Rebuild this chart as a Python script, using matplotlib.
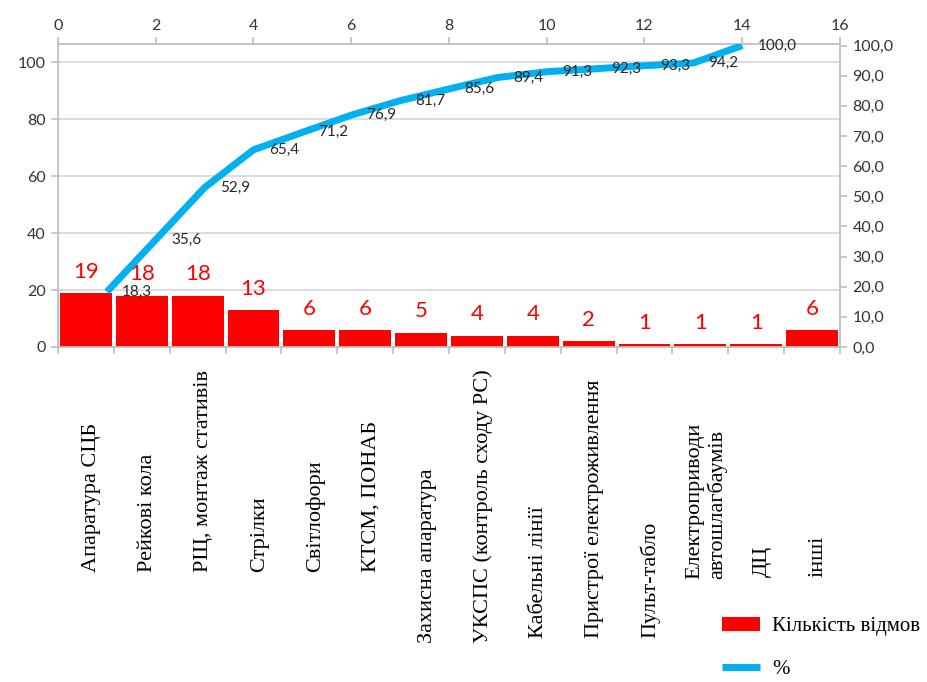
import numpy as np
import matplotlib
matplotlib.use("Agg")
import matplotlib.pyplot as plt

# data
categories = ["Апаратура СЦБ", "Рейкові кола", "РЩ, монтаж стативів", "Стрілки",
              "Світлофори", "КТСМ, ПОНАБ", "Захисна апаратура",
              "УКСПС (контроль сходу РС)", "Кабельні лінії",
              "Пристрої електроживлення", "Пульт-табло",
              "Електроприводи\nавтошлагбаумів", "ДЦ", "інші"]
failures = [19, 18, 18, 13, 6, 6, 5, 4, 4, 2, 1, 1, 1, 6]
pct_x = [1, 2, 3, 4, 5, 6, 7, 8, 9, 10, 11, 12, 13, 14]
pct = [18.3, 35.6, 52.9, 65.4, 71.2, 76.9, 81.7, 85.6, 89.4, 91.3, 92.3, 93.3, 94.2, 100.0]

# where the bottom of each rotated category label sits (pixels from top)
label_bottom_px = [572, 572, 572, 572, 572, 572, 643, 643, 638, 638, 638, 579, 577, 577]

W, H = 927, 682
fig = plt.figure(figsize=(W / 100, H / 100), dpi=100)
ax_l, ax_r, ax_t, ax_b = 58, 840, 44, 347
ax = fig.add_axes([ax_l / W, 1 - ax_b / H, (ax_r - ax_l) / W, (ax_b - ax_t) / H])

gray = "#bfbfbf"
txt = "#333333"
tick_font = dict(family="Lato", size=11.5)

x = np.arange(len(categories))
bars = ax.bar(x, failures, width=0.93, color="#ff0000", zorder=2)
ax.set_xlim(-0.5, len(categories) - 0.5)
ax.set_ylim(0, 106.4)
ax.set_yticks(np.arange(0, 101, 20))
ax.yaxis.grid(True, color="#d9d9d9", lw=1.3, zorder=0)
ax.set_axisbelow(True)
ax.set_xticks(np.arange(-0.5, len(categories), 1))
ax.set_xticklabels([])
ax.tick_params(axis="x", length=5, color=gray, width=1.2)
ax.tick_params(axis="y", length=5, color=gray, width=1.2, labelcolor=txt, pad=4)
for lab in ax.get_yticklabels():
    lab.set_fontfamily("Lato")
    lab.set_fontsize(11.5)
for s in ["top", "right"]:
    ax.spines[s].set_visible(False)
for s in ["left", "bottom"]:
    ax.spines[s].set_color(gray)
    ax.spines[s].set_linewidth(1.3)

for xi, v in zip(x, failures):
    ax.annotate(str(v), (xi, v), xytext=(0, 11), textcoords="offset points",
                ha="center", va="baseline", color="#ff0000",
                fontfamily="Lato", fontsize=16)

# category labels, rotated
for xi, name, bp in zip(x, categories, label_bottom_px):
    fy = 1 - bp / H
    fx = (ax_l + (xi + 0.5) * (ax_r - ax_l) / len(categories) + 6) / W
    fig.text(fx, fy, name, rotation=90, ha="center", va="bottom",
             multialignment="left", fontfamily="Liberation Serif",
             fontsize=16, color="#000000")

# secondary axes for the cumulative percentage
axr = ax.twinx()
axr.set_ylim(0, 100.5)
axr.set_yticks(np.arange(0, 101, 10))
axr.set_yticklabels([f"{v:.1f}".replace(".", ",") for v in np.arange(0, 101, 10)],
                    **tick_font, color=txt)
axr.tick_params(axis="y", length=5, color=gray, width=1.2, pad=4)
for s in ["top", "left", "bottom"]:
    axr.spines[s].set_visible(False)
axr.spines["right"].set_color(gray)
axr.spines["right"].set_linewidth(1.3)

axt = axr.twiny()
axt.set_xlim(0, 16)
axt.set_xticks(np.arange(0, 17, 2))
axt.set_xticklabels([str(v) for v in range(0, 17, 2)], **tick_font, color=txt)
axt.tick_params(axis="x", length=5, color=gray, width=1.2, pad=3)
for s in ["left", "right", "bottom"]:
    axt.spines[s].set_visible(False)
axt.spines["top"].set_color(gray)
axt.spines["top"].set_linewidth(1.3)

line, = axt.plot(pct_x, pct, color="#00b0f0", lw=5, solid_joinstyle="round",
                 solid_capstyle="butt", zorder=3)
for px, pv in zip(pct_x, pct):
    axt.annotate(f"{pv:.1f}".replace(".", ","), (px, pv), xytext=(11, 0),
                 textcoords="offset points", ha="left", va="center",
                 color="#262626", fontfamily="Lato", fontsize=11)

fig.legend([bars, line], ["Кількість відмов", "%"], loc="upper left",
           bbox_to_anchor=(714 / W, 1 - 609 / H), frameon=False,
           borderaxespad=0, prop=dict(family="Liberation Serif", size=15),
           handlelength=1.8, handleheight=0.6, handletextpad=0.6,
           labelspacing=1.12)

fig.savefig("out.png", dpi=100)
